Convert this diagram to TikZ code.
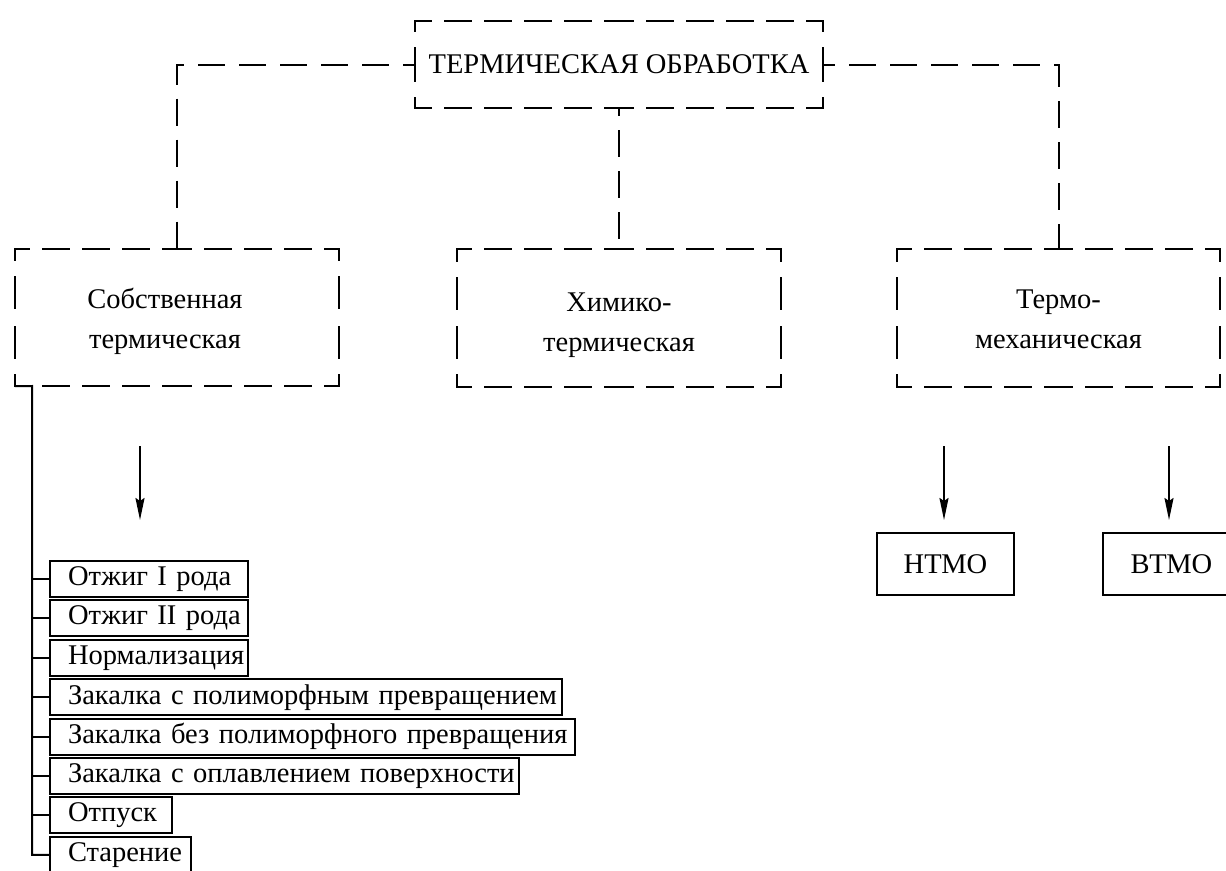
\documentclass[tikz,border=0pt]{standalone}
\usepackage{fontspec}
\setmainfont{Liberation Serif}
\usetikzlibrary{arrows.meta}
% draw the four sides of a node as dashes that start at its corners
% #1 node, #2 phase for horizontal sides, #3 phase for vertical sides
\newcommand{\dashsides}[3]{%
  \draw[hdash, dash phase=#2] (#1.north west) -- (#1.north);
  \draw[hdash, dash phase=#2] (#1.north east) -- (#1.north);
  \draw[hdash, dash phase=#2] (#1.south west) -- (#1.south);
  \draw[hdash, dash phase=#2] (#1.south east) -- (#1.south);
  \draw[vdash, dash phase=#3] (#1.north west) -- (#1.west);
  \draw[vdash, dash phase=#3] (#1.south west) -- (#1.west);
  \draw[vdash, dash phase=#3] (#1.north east) -- (#1.east);
  \draw[vdash, dash phase=#3] (#1.south east) -- (#1.east);
}
% two-line text block, lowered by half of #1
\newcommand{\lowtext}[2]{\raisebox{0pt}[\dimexpr\height+#1\relax][\depth]{\begin{tabular}{@{}c@{}}#2\end{tabular}}}
\begin{document}
\begin{tikzpicture}[x=1pt,y=-1pt,
  font=\fontsize{28.5}{40}\selectfont,
  dbox/.style={minimum width=324pt, minimum height=137pt, align=center, inner sep=0pt},
  hdash/.style={line width=2pt, line cap=rect, dash pattern=on 26pt off 14pt},
  vdash/.style={line width=2pt, line cap=rect, dash pattern=on 31pt off 17pt},
  sbox/.style={draw, line width=2pt, inner sep=0pt},
  item/.style={sbox, anchor=west, minimum height=36pt, inner xsep=0pt,
    text width=#1, align=left},
  dline/.style={line width=2pt, dash pattern=on 27pt off 14pt},
  sline/.style={line width=2pt},
  arr/.style={line width=2pt, -{Stealth[length=22pt,width=9pt,inset=3pt]}}
]
\clip (0,0) rectangle (1226,870);

% dashed boxes
\node[dbox, minimum width=408pt, minimum height=87pt] (top) at (619,64.5) {ТЕРМИЧЕСКАЯ ОБРАБОТКА};
\node[dbox] (sob) at (177,317.5) {\lowtext{6pt}{Собственная\rule{24pt}{0pt}\\термическая\rule{24pt}{0pt}}};
\node[dbox] (him) at (619,318) {\lowtext{10pt}{Химико-\\термическая}};
\node[dbox, minimum width=323pt] (termo) at (1058.5,318) {\lowtext{4pt}{Термо-\\механическая}};
\dashsides{top}{9.5pt}{20.5pt}
\dashsides{sob}{11.5pt}{19.5pt}
\dashsides{him}{11.5pt}{19.5pt}
\dashsides{termo}{12pt}{19.5pt}

\draw[dline, dash phase=15pt] (top.west) -| (sob.north);
\draw[dline, dash phase=15pt] (top.east) -| (termo.north);
\draw[dline, dash phase=19pt] (top.south) -- (him.north);

% solid boxes
\node[sbox, minimum width=137pt, minimum height=62pt] (ntmo) at (945.5,564) {НТМО};
\node[sbox, minimum width=137pt, minimum height=62pt] (vtmo) at (1171.5,564) {ВТМО};

% arrows
\coordinate (a1s) at (140,446); \coordinate (a1e) at (140,520);
\coordinate (a2s) at (944,446); \coordinate (a2e) at (944,520);
\coordinate (a3s) at (1169,446); \coordinate (a3e) at (1169,520);
\draw[arr] (a1s) -- (a1e);
\draw[arr] (a2s) -- (a2e);
\draw[arr] (a3s) -- (a3e);

% items
\node[item=198pt] (i1) at (49,579) {\hspace*{18pt}Отжиг I рода};
\node[item=198pt] (i2) at (49,618.4) {\hspace*{18pt}Отжиг II рода};
\node[item=198pt] (i3) at (49,657.8) {\hspace*{18pt}Нормализация};
\node[item=512pt] (i4) at (49,697.2) {\hspace*{18pt}Закалка с полиморфным превращением};
\node[item=525pt] (i5) at (49,736.6) {\hspace*{18pt}Закалка без полиморфного превращения};
\node[item=469pt] (i6) at (49,776) {\hspace*{18pt}Закалка с оплавлением поверхности};
\node[item=122pt] (i7) at (49,815.4) {\hspace*{18pt}Отпуск};
\node[item=141pt] (i8) at (49,854.8) {\hspace*{18pt}Старение};

\coordinate (tk) at (32,386);
\draw[sline] (sob.south west) -- (tk) |- (i8.west);
\foreach \i in {1,...,7}{
  \draw[sline] (i\i.west -| tk) -- (i\i.west);
}
\end{tikzpicture}
\end{document}
